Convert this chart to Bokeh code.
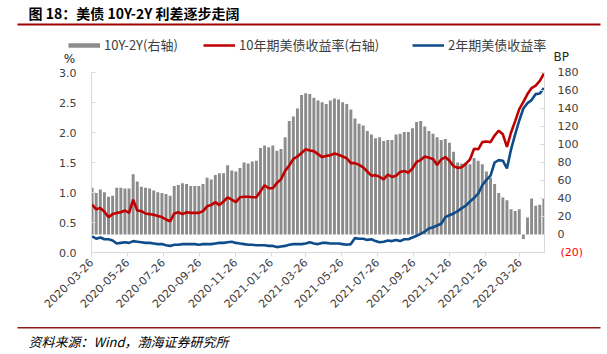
import math
import pandas as pd
from bokeh.plotting import figure
from bokeh.layouts import column
from bokeh.models import (Range1d, LinearAxis, FixedTicker, DatetimeTickFormatter,
                          NumeralTickFormatter, Label, BoxAnnotation, Legend, LegendItem)
from bokeh.embed import file_html
from bokeh.resources import INLINE

# ---------------- data (weekly readings, 2020-03-27 .. 2022-05-06) ----------------
start_date = "2020-03-27"
n_weeks = 111

spread_bp = [52, 46, 50, 47, 42, 43, 52, 52, 51, 51,
             67, 59, 53, 52, 51, 49, 47, 46, 45, 43,
             54, 55, 57, 56, 54, 54, 54, 56, 63,
             61, 66, 68, 68, 77, 71, 70, 74, 80, 79,
             81, 82, 96, 99, 97, 99, 93, 95, 108, 126,
             131, 140, 155, 157, 156, 152, 149, 147, 145,
             149, 151, 150, 147, 145, 139, 129, 123, 121, 115,
             111, 107, 108, 104, 105, 105, 111, 112, 114, 114,
             118, 125, 126, 120, 115, 112, 108, 105,
             106, 102, 92, 80, 79, 80, 78, 85, 82, 78,
             70, 63, 56, 46, 41, 38, 28, 26, 28, -5,
             19, 40, 32, 33, 40]

us10y = [0.80, 0.72, 0.74, 0.68, 0.59, 0.64, 0.66, 0.67, 0.70, 0.66,
         0.88, 0.70, 0.69, 0.65, 0.64, 0.63, 0.61, 0.59, 0.55, 0.52,
         0.65, 0.67, 0.64, 0.67, 0.66, 0.66, 0.66, 0.69, 0.77,
         0.79, 0.84, 0.79, 0.85, 0.92, 0.88, 0.84, 0.92, 0.93, 0.93,
         0.92, 0.92, 1.02, 1.12, 1.07, 1.07, 1.16, 1.22, 1.36, 1.45,
         1.56, 1.60, 1.66, 1.72, 1.70, 1.69, 1.64, 1.59, 1.61,
         1.62, 1.65, 1.63, 1.60, 1.57, 1.49, 1.49, 1.46, 1.42, 1.35,
         1.28, 1.29, 1.26, 1.22, 1.30, 1.26, 1.28, 1.34, 1.36, 1.33,
         1.40, 1.51, 1.54, 1.60, 1.58, 1.56, 1.46, 1.55,
         1.59, 1.53, 1.44, 1.41, 1.42, 1.48, 1.55, 1.73, 1.72, 1.84,
         1.85, 1.84, 1.95, 2.03, 1.97, 1.76, 2.00, 2.19, 2.39, 2.51,
         2.64, 2.74, 2.78, 2.86, 2.98]

us2y = [0.27, 0.23, 0.25, 0.22, 0.22, 0.20, 0.15, 0.16, 0.17, 0.16,
        0.19, 0.18, 0.17, 0.16, 0.16, 0.15, 0.14, 0.14, 0.12, 0.11,
        0.13, 0.13, 0.14, 0.14, 0.14, 0.14, 0.13, 0.14, 0.14,
        0.14, 0.15, 0.16, 0.16, 0.17, 0.18, 0.16, 0.15, 0.14, 0.13,
        0.13, 0.12, 0.12, 0.12, 0.11, 0.11, 0.09, 0.10, 0.11, 0.13,
        0.14, 0.14, 0.14, 0.15, 0.17, 0.15, 0.14, 0.16, 0.16,
        0.15, 0.15, 0.15, 0.14, 0.13, 0.14, 0.24, 0.23, 0.23, 0.21,
        0.22, 0.19, 0.17, 0.18, 0.20, 0.19, 0.21, 0.19, 0.22, 0.22,
        0.25, 0.28, 0.31, 0.35, 0.40, 0.42, 0.45, 0.48,
        0.59, 0.62, 0.65, 0.69, 0.74, 0.78, 0.85, 0.91, 0.98, 1.12,
        1.21, 1.28, 1.50, 1.54, 1.53, 1.40, 1.72, 1.97, 2.20, 2.40,
        2.49, 2.54, 2.64, 2.65, 2.74]

x_tick_labels = ["2020-03-26", "2020-05-26", "2020-07-26", "2020-09-26", "2020-11-26",
                 "2021-01-26", "2021-03-26", "2021-05-26", "2021-07-26", "2021-09-26",
                 "2021-11-26", "2022-01-26", "2022-03-26"]
left_ticks = [0.0, 0.5, 1.0, 1.5, 2.0, 2.5, 3.0]
right_ticks = [-20, 0, 20, 40, 60, 80, 100, 120, 140, 160, 180]

title_text = "图 18：美债 10Y-2Y 利差逐步走阔"
source_text = "资料来源：Wind，渤海证券研究所"
legend_labels = ["10Y-2Y(右轴)", "10年期美债收益率(右轴)", "2年期美债收益率"]

dates = pd.date_range(start_date, periods=n_weeks, freq="7D")

# ---------------- page geometry ----------------
W = 607
HDR_H = 65          # header strip: title, rule, legend, unit labels
FT_H = 32           # footer strip: rule + source
MAIN_H = 354 - HDR_H - FT_H
FL, FR = 91, 544    # frame left/right on canvas
FT, FB = 72, 252    # frame top/bottom on canvas

CJK = "Noto Sans CJK SC"
TICK_FONT = "DejaVu Sans"
AX_COL = "#D9D9D9"
LBL_COL = "#404040"
GRAY = "#8C8C8C"
RED = "#C00000"
BLUE = "#0F4C8A"


def strip(h):
    f = figure(width=W, height=h, output_backend="svg", toolbar_location=None,
               x_range=Range1d(0, W), y_range=Range1d(h, 0),
               x_axis_location=None, y_axis_location=None, min_border=0,
               frame_align=False)
    f.min_border_left = f.min_border_right = f.min_border_top = f.min_border_bottom = 0
    f.outline_line_color = None
    f.xgrid.visible = False
    f.ygrid.visible = False
    f.background_fill_color = "white"
    f.border_fill_color = "white"
    return f


# ---------------- header ----------------
hdr = strip(HDR_H)
hdr.add_layout(Label(x=28, y=12, text=title_text, text_font=CJK, text_font_size="14px",
                     text_font_style="bold", text_color="#000000",
                     text_baseline="middle", text_align="left"))
hdr.add_layout(BoxAnnotation(left=17, right=600, top=23, bottom=25,
                             fill_color="#A00000", fill_alpha=1, line_alpha=0))
hdr.add_layout(Label(x=69, y=58, text="%", text_font=TICK_FONT, text_font_size="12px",
                     text_color="#262626", text_baseline="middle", text_align="center"))
hdr.add_layout(Label(x=553, y=56, text="BP", text_font=TICK_FONT, text_font_size="12px",
                     text_color="#262626", text_baseline="middle", text_align="left"))

# legend swatches: off-canvas stand-ins that carry the line styles of the chart
off = [-60, -20]
lg_gray = hdr.line(off, [-20, -20], line_color=GRAY, line_width=4.5, line_cap="butt")
lg_red = hdr.line(off, [-20, -20], line_color=RED, line_width=2.6)
lg_blue = hdr.line(off, [-20, -20], line_color=BLUE, line_width=2.6)


def add_legend(label, renderer, x_left, y_center):
    lg = Legend(items=[LegendItem(label=label, renderers=[renderer])],
                location=(x_left, HDR_H - y_center - 9),
                orientation="horizontal", padding=0, margin=0, spacing=0,
                glyph_width=32, glyph_height=18, label_height=18, label_standoff=4,
                label_text_font=CJK, label_text_font_size="13px",
                label_text_color=LBL_COL, border_line_alpha=0,
                background_fill_alpha=0)
    hdr.add_layout(lg, "center")


add_legend(legend_labels[0], lg_gray, 68, 45)
add_legend(legend_labels[1], lg_red, 203, 45)
add_legend(legend_labels[2], lg_blue, 412, 45)

# ---------------- main chart ----------------
x_start = pd.Timestamp("2020-03-26")
x_end = pd.Timestamp("2022-05-07")
p = figure(width=W, height=MAIN_H, x_axis_type="datetime", output_backend="svg",
           toolbar_location=None, frame_align=False,
           x_range=Range1d(x_start, x_end),
           y_range=Range1d(0, 3),
           min_border_left=FL, min_border_right=W - FR,
           min_border_top=FT - HDR_H, min_border_bottom=HDR_H + MAIN_H - FB)
p.extra_y_ranges = {"bp": Range1d(-20, 180)}
p.outline_line_color = None
p.xgrid.visible = False
p.ygrid.visible = False
p.background_fill_color = "white"
p.border_fill_color = "white"

day_ms = 86400000
p.vbar(x=dates, top=spread_bp, bottom=0, width=5.0 * day_ms,
       y_range_name="bp", fill_color=GRAY, line_color=None)
p.line(dates, us10y, line_color=RED, line_width=2.6)
p.line(dates, us2y, line_color=BLUE, line_width=2.6)

la = p.yaxis[0]
la.ticker = FixedTicker(ticks=left_ticks)
la.formatter = NumeralTickFormatter(format="0.0")

xa = p.xaxis[0]
xa.ticker = FixedTicker(ticks=[pd.Timestamp(s).value // 10**6 for s in x_tick_labels])
fmt = "%Y-%m-%d"
xa.formatter = DatetimeTickFormatter(days=fmt, months=fmt, years=fmt, hours=fmt,
                                     minutes=fmt, seconds=fmt, milliseconds=fmt,
                                     microseconds=fmt, hourmin=fmt, minsec=fmt)
xa.major_label_orientation = math.pi / 4

# main right axis (next to the frame)
ra = LinearAxis(y_range_name="bp", ticker=FixedTicker(ticks=right_ticks))
ra.major_label_overrides = {-20: " "}
p.add_layout(ra, "right")

# "(20)" in red: a second right axis pulled back under the first one's labels
rb = LinearAxis(y_range_name="bp", ticker=FixedTicker(ticks=[-20]))
rb.major_label_overrides = {-20: "(20)"}
rb.axis_line_color = None
rb.major_tick_line_color = None
rb.minor_tick_line_color = None
rb.major_tick_in = 0
rb.major_tick_out = 0
rb.major_label_standoff = -21
rb.major_label_text_font = TICK_FONT
rb.major_label_text_font_size = "11px"
rb.major_label_text_color = "#FF0000"
p.add_layout(rb, "right")

for ax in (la, ra):
    ax.major_tick_in = 4
    ax.major_tick_out = 0
for ax in (la, ra, xa):
    ax.axis_line_color = AX_COL
    ax.major_tick_line_color = AX_COL
    ax.minor_tick_line_color = None
    ax.major_label_text_font = TICK_FONT
    ax.major_label_text_font_size = "11px"
    ax.major_label_text_color = LBL_COL
la.major_label_standoff = 15
ra.major_label_standoff = 13
xa.major_tick_in = 0
xa.major_tick_out = 4
xa.major_label_standoff = 4

# ---------------- footer ----------------
ftr = strip(FT_H)
ftr.add_layout(BoxAnnotation(left=17, right=600, top=4.5, bottom=6,
                             fill_color="#8B1A1A", fill_alpha=1, line_alpha=0))
ftr.add_layout(Label(x=28, y=19, text=source_text, text_font=CJK, text_font_size="13px",
                     text_font_style="italic", text_color="#000000",
                     text_baseline="middle", text_align="left"))

layout = column(hdr, p, ftr, spacing=0)
open("out.html", "w").write(file_html(layout, INLINE))
